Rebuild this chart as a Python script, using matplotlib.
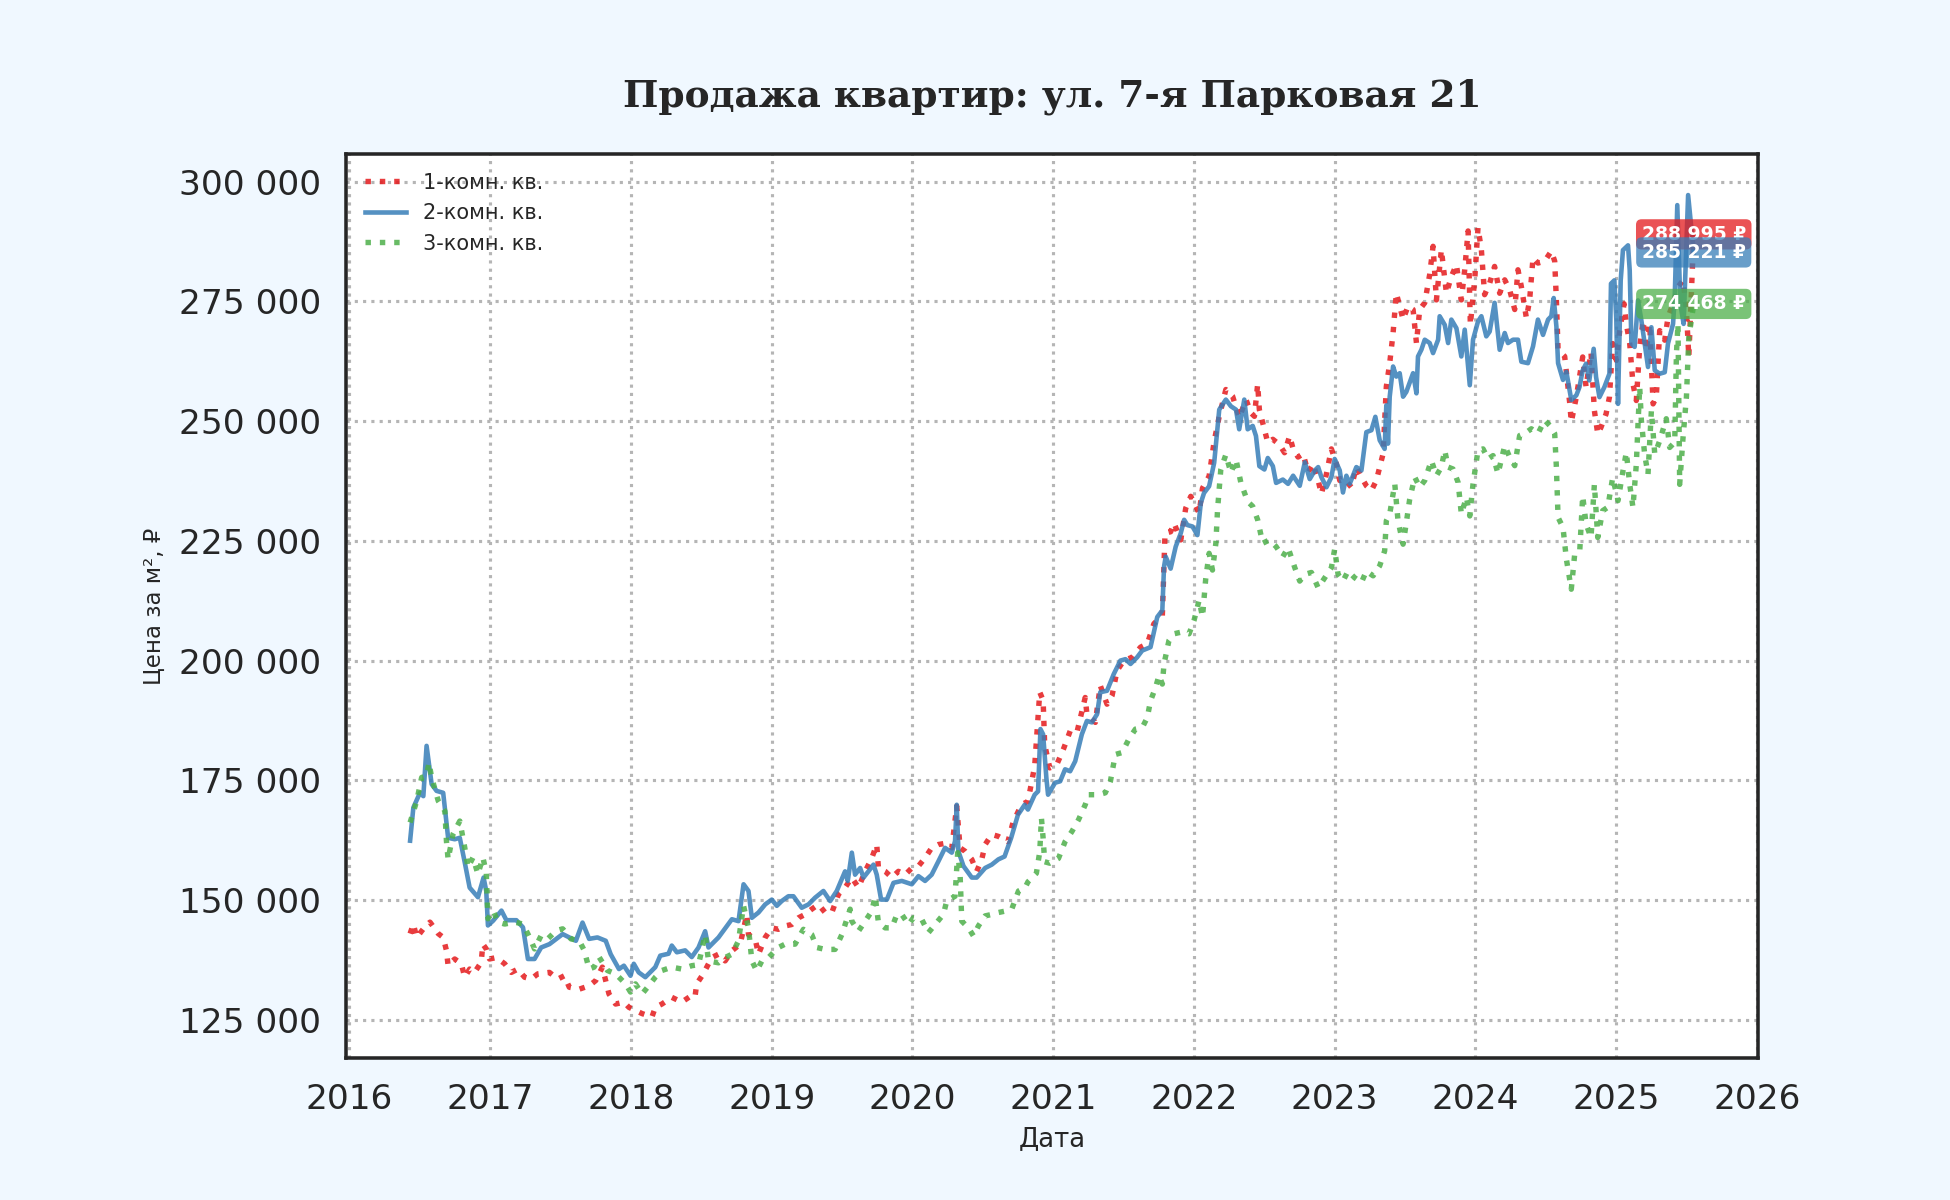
import numpy as np
import pandas as pd
import matplotlib
matplotlib.use("Agg")
import matplotlib.pyplot as plt
import matplotlib.dates as mdates
from matplotlib.ticker import FuncFormatter, MultipleLocator

# время в долях года, цены в тыс. руб. за м²
t_1k = [2016.431, 2016.454, 2016.478, 2016.525, 2016.572, 2016.631, 2016.666, 2016.689, 2016.701, 2016.748,
        2016.795, 2016.819, 2016.854, 2016.889, 2016.936, 2016.948, 2016.972, 2016.995, 2017.042, 2017.101,
        2017.148, 2017.195, 2017.242, 2017.289, 2017.336, 2017.419, 2017.478, 2017.525, 2017.560, 2017.631,
        2017.701, 2017.748, 2017.795, 2017.842, 2017.889, 2017.948, 2017.984, 2018.078, 2018.148, 2018.172,
        2018.219, 2018.289, 2018.360, 2018.431, 2018.454, 2018.466, 2018.513, 2018.573, 2018.621, 2018.668,
        2018.716, 2018.775, 2018.822, 2018.834, 2018.882, 2018.905, 2018.953, 2019.000, 2019.047, 2019.095,
        2019.142, 2019.190, 2019.237, 2019.284, 2019.332, 2019.379, 2019.427, 2019.474, 2019.521, 2019.569,
        2019.616, 2019.664, 2019.711, 2019.746, 2019.758, 2019.806, 2019.853, 2019.900, 2019.948, 2019.995,
        2020.043, 2020.090, 2020.137, 2020.185, 2020.244, 2020.280, 2020.315, 2020.339, 2020.374, 2020.422,
        2020.457, 2020.493, 2020.517, 2020.564, 2020.611, 2020.679, 2020.714, 2020.774, 2020.821, 2020.869,
        2020.905, 2020.929, 2020.940, 2020.976, 2021.024, 2021.071, 2021.119, 2021.167, 2021.226, 2021.238,
        2021.298, 2021.333, 2021.381, 2021.417, 2021.452, 2021.500, 2021.560, 2021.619, 2021.667, 2021.714,
        2021.774, 2021.793, 2021.833, 2021.857, 2021.905, 2021.940, 2021.976, 2022.012, 2022.036, 2022.060,
        2022.107, 2022.143, 2022.179, 2022.226, 2022.274, 2022.321, 2022.369, 2022.405, 2022.429, 2022.452,
        2022.464, 2022.500, 2022.524, 2022.560, 2022.607, 2022.643, 2022.679, 2022.704, 2022.739, 2022.775,
        2022.810, 2022.846, 2022.882, 2022.905, 2022.941, 2022.976, 2023.012, 2023.036, 2023.071, 2023.118,
        2023.154, 2023.190, 2023.225, 2023.261, 2023.296, 2023.320, 2023.344, 2023.367, 2023.391, 2023.415,
        2023.438, 2023.462, 2023.486, 2023.521, 2023.557, 2023.581, 2023.604, 2023.640, 2023.675, 2023.699,
        2023.723, 2023.758, 2023.794, 2023.829, 2023.865, 2023.900, 2023.924, 2023.948, 2023.964, 2023.995,
        2024.019, 2024.043, 2024.066, 2024.102, 2024.137, 2024.173, 2024.209, 2024.244, 2024.280, 2024.303,
        2024.327, 2024.363, 2024.386, 2024.410, 2024.445, 2024.493, 2024.540, 2024.564, 2024.576, 2024.588,
        2024.635, 2024.671, 2024.682, 2024.718, 2024.763, 2024.787, 2024.822, 2024.846, 2024.870, 2024.893,
        2024.929, 2024.953, 2024.976, 2025.000, 2025.024, 2025.055, 2025.071, 2025.095, 2025.118, 2025.142,
        2025.166, 2025.190, 2025.213, 2025.237, 2025.261, 2025.284, 2025.308, 2025.344, 2025.367, 2025.403,
        2025.438, 2025.474, 2025.498, 2025.515, 2025.550]
v_1k = [143.0, 145.0, 142.2, 144.0, 145.4, 143.0, 142.2, 139.5, 136.3, 137.7,
        136.7, 133.9, 135.6, 134.9, 137.0, 140.8, 139.8, 137.7, 138.0, 136.7,
        134.9, 135.6, 133.9, 133.5, 134.6, 134.9, 133.5, 134.2, 131.8, 131.4,
        132.1, 133.2, 136.0, 130.4, 128.3, 128.7, 127.6, 126.3, 125.6, 127.6,
        128.3, 129.7, 128.7, 130.1, 129.8, 132.5, 134.6, 138.0, 138.7, 137.3,
        139.4, 140.8, 147.0, 142.8, 141.8, 138.7, 142.2, 144.2, 143.9, 144.6,
        144.9, 146.3, 147.0, 148.1, 149.1, 147.4, 147.4, 151.2, 152.6, 154.7,
        152.6, 156.0, 158.8, 161.6, 156.7, 156.0, 154.7, 156.0, 155.3, 156.7,
        157.1, 158.8, 160.9, 161.6, 161.9, 160.9, 169.6, 160.9, 160.2, 158.5,
        156.0, 158.5, 161.6, 163.7, 163.3, 162.2, 166.1, 169.9, 170.6, 178.0,
        193.4, 191.7, 182.5, 177.6, 178.3, 181.5, 185.3, 185.0, 192.3, 188.8,
        187.1, 194.8, 190.9, 192.7, 197.9, 200.0, 200.7, 202.8, 203.5, 207.7,
        209.4, 226.6, 226.9, 228.7, 225.2, 231.8, 234.3, 232.2, 230.8, 236.0,
        238.5, 245.8, 251.0, 256.6, 255.2, 250.7, 254.5, 251.7, 251.0, 257.7,
        252.4, 248.3, 245.5, 246.2, 245.1, 243.4, 246.9, 244.2, 242.5, 243.2,
        239.3, 241.1, 237.6, 234.8, 239.0, 244.2, 241.1, 237.6, 237.9, 236.2,
        240.4, 238.3, 236.5, 235.5, 237.6, 240.4, 243.2, 257.2, 262.1, 268.4,
        276.7, 274.0, 271.2, 274.0, 273.3, 266.3, 273.3, 274.7, 280.6, 286.5,
        275.3, 285.8, 276.7, 280.2, 282.7, 275.3, 281.6, 289.7, 270.1, 279.5,
        290.4, 285.8, 276.4, 278.8, 282.3, 276.7, 279.5, 277.4, 273.3, 281.6,
        278.1, 271.5, 275.3, 284.1, 283.0, 283.4, 285.5, 283.4, 275.3, 264.9,
        263.5, 253.7, 249.8, 255.1, 263.4, 257.1, 264.4, 252.2, 247.3, 248.7,
        251.5, 255.0, 266.2, 262.7, 268.9, 274.5, 270.3, 266.2, 257.8, 254.3,
        265.5, 271.0, 264.8, 270.3, 253.6, 255.0, 268.9, 266.9, 271.7, 274.5,
        278.0, 279.4, 273.1, 263.4, 288.995]

t_2k = [2016.431, 2016.454, 2016.501, 2016.525, 2016.548, 2016.584, 2016.619, 2016.666, 2016.701, 2016.748,
        2016.784, 2016.819, 2016.854, 2016.913, 2016.953, 2016.972, 2016.984, 2017.019, 2017.078, 2017.113,
        2017.184, 2017.231, 2017.266, 2017.313, 2017.360, 2017.419, 2017.513, 2017.607, 2017.654, 2017.701,
        2017.760, 2017.819, 2017.854, 2017.913, 2017.948, 2017.995, 2018.019, 2018.054, 2018.101, 2018.172,
        2018.207, 2018.266, 2018.289, 2018.325, 2018.384, 2018.431, 2018.479, 2018.526, 2018.550, 2018.621,
        2018.716, 2018.763, 2018.799, 2018.834, 2018.858, 2018.905, 2018.953, 2019.000, 2019.036, 2019.071,
        2019.118, 2019.154, 2019.213, 2019.261, 2019.308, 2019.367, 2019.415, 2019.462, 2019.521, 2019.540,
        2019.569, 2019.592, 2019.628, 2019.652, 2019.687, 2019.723, 2019.746, 2019.777, 2019.818, 2019.865,
        2019.924, 2019.995, 2020.043, 2020.090, 2020.137, 2020.185, 2020.232, 2020.280, 2020.303, 2020.315,
        2020.327, 2020.363, 2020.422, 2020.457, 2020.517, 2020.564, 2020.611, 2020.655, 2020.702, 2020.750,
        2020.798, 2020.821, 2020.869, 2020.893, 2020.910, 2020.929, 2020.952, 2020.964, 2021.012, 2021.048,
        2021.083, 2021.119, 2021.155, 2021.202, 2021.238, 2021.274, 2021.310, 2021.333, 2021.381, 2021.429,
        2021.476, 2021.512, 2021.548, 2021.595, 2021.631, 2021.690, 2021.738, 2021.774, 2021.786, 2021.798,
        2021.833, 2021.869, 2021.905, 2021.929, 2021.952, 2021.988, 2022.024, 2022.048, 2022.071, 2022.107,
        2022.143, 2022.179, 2022.226, 2022.262, 2022.298, 2022.321, 2022.357, 2022.381, 2022.417, 2022.440,
        2022.464, 2022.500, 2022.524, 2022.560, 2022.583, 2022.631, 2022.668, 2022.704, 2022.751, 2022.787,
        2022.822, 2022.858, 2022.882, 2022.905, 2022.941, 2022.976, 2023.000, 2023.036, 2023.059, 2023.083,
        2023.107, 2023.154, 2023.190, 2023.225, 2023.261, 2023.289, 2023.320, 2023.355, 2023.367, 2023.379,
        2023.391, 2023.415, 2023.438, 2023.462, 2023.486, 2023.509, 2023.557, 2023.581, 2023.592, 2023.616,
        2023.640, 2023.675, 2023.699, 2023.735, 2023.746, 2023.782, 2023.806, 2023.829, 2023.865, 2023.900,
        2023.924, 2023.960, 2023.983, 2024.019, 2024.043, 2024.078, 2024.102, 2024.137, 2024.173, 2024.209,
        2024.232, 2024.268, 2024.303, 2024.327, 2024.374, 2024.410, 2024.445, 2024.481, 2024.517, 2024.540,
        2024.557, 2024.576, 2024.588, 2024.623, 2024.647, 2024.682, 2024.718, 2024.740, 2024.763, 2024.787,
        2024.810, 2024.841, 2024.858, 2024.882, 2024.917, 2024.953, 2024.964, 2024.988, 2025.000, 2025.012,
        2025.031, 2025.047, 2025.083, 2025.095, 2025.107, 2025.130, 2025.154, 2025.178, 2025.201, 2025.225,
        2025.249, 2025.273, 2025.308, 2025.344, 2025.367, 2025.403, 2025.415, 2025.433, 2025.455, 2025.478,
        2025.510, 2025.550]
v_2k = [162.4, 169.3, 172.4, 171.7, 182.2, 174.2, 172.8, 172.4, 163.0, 162.7,
        163.0, 157.9, 152.6, 150.6, 154.7, 151.9, 144.7, 145.7, 147.8, 145.8,
        145.8, 144.3, 137.7, 137.7, 140.1, 140.8, 142.9, 141.5, 145.3, 141.9,
        142.2, 141.5, 138.7, 135.6, 136.3, 134.2, 136.7, 134.9, 133.9, 136.0,
        138.4, 138.8, 140.5, 139.1, 139.5, 138.1, 140.1, 143.5, 140.1, 142.2,
        146.0, 145.6, 153.3, 151.9, 146.3, 147.4, 149.1, 150.1, 148.8, 149.8,
        150.8, 150.8, 148.4, 149.1, 150.5, 151.9, 149.8, 151.9, 156.0, 154.0,
        159.9, 155.3, 156.7, 154.7, 156.0, 157.4, 155.3, 150.1, 150.1, 153.6,
        154.0, 153.3, 155.0, 154.0, 155.3, 158.1, 160.9, 159.9, 162.3, 169.9,
        160.2, 157.1, 154.7, 154.7, 156.7, 157.4, 158.5, 159.1, 163.0, 167.8,
        169.9, 168.9, 172.0, 172.7, 185.7, 184.6, 175.5, 172.0, 174.5, 174.8,
        177.3, 176.9, 179.0, 184.6, 187.4, 187.1, 188.8, 193.4, 193.7, 197.2,
        200.0, 200.3, 199.3, 200.7, 202.1, 202.8, 209.1, 210.5, 219.6, 221.7,
        219.2, 223.8, 226.6, 229.4, 228.3, 228.0, 226.2, 232.9, 235.0, 236.4,
        241.3, 252.4, 254.5, 253.1, 252.4, 248.3, 254.5, 248.3, 249.0, 246.9,
        240.6, 239.9, 242.3, 240.6, 237.1, 237.8, 236.9, 238.6, 236.5, 241.4,
        237.9, 239.7, 240.4, 238.3, 236.2, 238.3, 242.1, 239.7, 235.1, 238.6,
        236.9, 240.4, 239.7, 247.7, 248.1, 250.9, 246.0, 244.2, 253.3, 245.3,
        255.1, 261.4, 259.3, 260.0, 255.1, 256.1, 260.0, 255.8, 263.5, 264.9,
        267.0, 266.3, 264.2, 267.0, 271.9, 270.1, 266.3, 271.2, 269.4, 263.5,
        269.1, 257.5, 267.0, 270.8, 271.9, 267.7, 268.7, 274.7, 264.9, 268.4,
        266.3, 267.0, 267.0, 262.4, 262.1, 265.6, 271.2, 268.0, 271.2, 271.9,
        275.7, 269.8, 262.1, 258.6, 260.3, 254.4, 255.4, 257.1, 260.6, 262.0,
        258.5, 265.1, 259.2, 255.0, 257.1, 259.9, 278.7, 279.4, 271.0, 253.6,
        279.4, 285.7, 286.7, 281.5, 266.2, 265.5, 275.2, 271.0, 266.2, 261.3,
        269.6, 260.6, 259.9, 260.2, 266.2, 270.3, 275.9, 295.1, 274.5, 270.3,
        297.2, 285.221]

t_3k = [2016.431, 2016.478, 2016.513, 2016.548, 2016.565, 2016.584, 2016.631, 2016.678, 2016.689, 2016.701,
        2016.736, 2016.784, 2016.819, 2016.842, 2016.878, 2016.913, 2016.948, 2016.972, 2016.984, 2017.019,
        2017.054, 2017.101, 2017.172, 2017.231, 2017.278, 2017.313, 2017.360, 2017.407, 2017.466, 2017.513,
        2017.572, 2017.631, 2017.666, 2017.701, 2017.736, 2017.772, 2017.831, 2017.889, 2017.960, 2017.995,
        2018.031, 2018.078, 2018.125, 2018.172, 2018.219, 2018.289, 2018.360, 2018.431, 2018.479, 2018.526,
        2018.550, 2018.621, 2018.668, 2018.716, 2018.763, 2018.799, 2018.834, 2018.858, 2018.893, 2018.929,
        2018.976, 2019.047, 2019.095, 2019.166, 2019.225, 2019.284, 2019.320, 2019.379, 2019.450, 2019.498,
        2019.557, 2019.569, 2019.616, 2019.664, 2019.711, 2019.735, 2019.758, 2019.806, 2019.853, 2019.889,
        2019.924, 2019.972, 2020.007, 2020.066, 2020.114, 2020.161, 2020.220, 2020.244, 2020.303, 2020.322,
        2020.339, 2020.351, 2020.398, 2020.434, 2020.469, 2020.517, 2020.564, 2020.611, 2020.659, 2020.706,
        2020.754, 2020.801, 2020.821, 2020.881, 2020.905, 2020.917, 2020.929, 2020.940, 2020.976, 2021.036,
        2021.083, 2021.131, 2021.179, 2021.226, 2021.250, 2021.321, 2021.369, 2021.405, 2021.440, 2021.488,
        2021.536, 2021.583, 2021.631, 2021.667, 2021.690, 2021.726, 2021.750, 2021.774, 2021.786, 2021.821,
        2021.857, 2021.917, 2021.964, 2022.000, 2022.036, 2022.060, 2022.083, 2022.107, 2022.131, 2022.155,
        2022.167, 2022.190, 2022.226, 2022.262, 2022.298, 2022.333, 2022.381, 2022.417, 2022.452, 2022.488,
        2022.536, 2022.583, 2022.631, 2022.668, 2022.716, 2022.751, 2022.787, 2022.834, 2022.882, 2022.929,
        2022.976, 2023.000, 2023.024, 2023.059, 2023.095, 2023.142, 2023.190, 2023.225, 2023.273, 2023.320,
        2023.355, 2023.367, 2023.391, 2023.427, 2023.450, 2023.486, 2023.509, 2023.533, 2023.569, 2023.604,
        2023.640, 2023.687, 2023.723, 2023.758, 2023.782, 2023.806, 2023.841, 2023.877, 2023.900, 2023.936,
        2023.960, 2023.983, 2024.019, 2024.055, 2024.090, 2024.126, 2024.161, 2024.209, 2024.244, 2024.280,
        2024.315, 2024.351, 2024.398, 2024.445, 2024.493, 2024.528, 2024.564, 2024.576, 2024.588, 2024.623,
        2024.647, 2024.682, 2024.706, 2024.742, 2024.763, 2024.787, 2024.822, 2024.846, 2024.870, 2024.905,
        2024.941, 2024.976, 2025.012, 2025.047, 2025.071, 2025.095, 2025.118, 2025.142, 2025.154, 2025.166,
        2025.178, 2025.201, 2025.225, 2025.249, 2025.273, 2025.308, 2025.355, 2025.379, 2025.415, 2025.427,
        2025.438, 2025.450, 2025.474, 2025.498, 2025.515, 2025.550]
v_3k = [166.2, 170.7, 175.6, 175.9, 178.7, 175.6, 170.7, 168.6, 162.4, 158.5,
        163.8, 166.5, 161.0, 156.8, 158.9, 155.4, 158.9, 155.8, 146.1, 147.8,
        145.4, 145.0, 145.4, 145.0, 142.2, 139.8, 142.6, 141.9, 143.6, 144.0,
        141.9, 141.5, 139.5, 135.6, 136.0, 138.1, 135.3, 134.6, 132.5, 130.8,
        132.5, 130.4, 132.1, 133.9, 135.3, 136.0, 135.6, 136.3, 136.5, 142.8,
        137.3, 136.9, 138.0, 138.7, 141.5, 148.8, 144.2, 137.3, 135.2, 137.3,
        138.0, 140.1, 140.8, 140.8, 143.9, 142.8, 140.1, 139.7, 139.7, 142.8,
        148.1, 145.6, 143.5, 145.6, 147.7, 150.8, 145.3, 144.2, 144.2, 147.0,
        147.0, 144.9, 146.3, 146.0, 143.2, 144.9, 147.0, 149.8, 150.8, 159.9,
        155.3, 145.6, 144.2, 142.5, 144.6, 146.7, 147.0, 147.4, 147.7, 148.1,
        151.9, 152.6, 153.8, 155.6, 160.1, 167.1, 162.9, 158.0, 157.7, 158.7,
        162.2, 164.3, 166.8, 169.9, 172.0, 172.0, 172.4, 174.8, 180.4, 180.8,
        183.6, 185.7, 186.0, 188.1, 191.6, 194.4, 196.9, 195.1, 199.3, 204.2,
        205.6, 206.0, 205.6, 208.4, 212.6, 209.1, 217.1, 222.4, 218.9, 224.5,
        231.5, 239.9, 243.0, 239.2, 242.0, 237.1, 233.2, 232.2, 229.4, 224.5,
        225.2, 223.8, 221.7, 223.6, 219.4, 216.6, 218.0, 218.4, 215.2, 217.3,
        219.4, 223.3, 218.0, 216.6, 218.7, 217.3, 216.3, 218.7, 217.7, 219.8,
        222.9, 229.2, 230.6, 236.9, 229.2, 224.3, 228.8, 233.7, 238.3, 236.2,
        237.6, 241.8, 238.6, 240.4, 243.9, 240.4, 240.0, 237.2, 230.6, 234.1,
        230.2, 236.9, 243.9, 244.2, 242.1, 242.8, 239.0, 244.9, 242.5, 240.7,
        247.0, 247.4, 248.4, 247.4, 250.2, 249.1, 247.4, 240.4, 229.9, 227.8,
        221.2, 214.9, 222.2, 222.9, 234.4, 228.5, 225.7, 236.8, 225.7, 231.3,
        232.0, 238.2, 233.4, 239.6, 243.5, 236.8, 232.0, 241.0, 249.4, 257.1,
        250.1, 243.1, 238.9, 252.2, 243.1, 245.9, 250.5, 244.5, 245.6, 264.1,
        270.3, 236.8, 246.6, 255.0, 267.5, 274.468]

series_names = ["1-комн. кв.", "2-комн. кв.", "3-комн. кв."]
series_colors = ["#e41a1c", "#377eb8", "#4daf4a"]
series_styles = [":", "-", ":"]


def to_dates(years):
    years = np.asarray(years, dtype=float)
    whole = np.floor(years).astype(int)
    base = pd.to_datetime(whole.astype(str), format="%Y")
    return base + pd.to_timedelta((years - whole) * 365.25, unit="D")


def fmt_rub(x, pos=None):
    return f"{x:,.0f}".replace(",", " ")


fig = plt.figure(figsize=(13, 8), dpi=150, facecolor="#f0f8ff")
ax = fig.add_axes([0.1774, 0.1183, 0.9015 - 0.1774, 0.8717 - 0.1183])
ax.set_facecolor("white")

datos = [(t_1k, v_1k), (t_2k, v_2k), (t_3k, v_3k)]
for (t, v), nombre, color, ls in zip(datos, series_names, series_colors, series_styles):
    fechas = to_dates(t)
    valores = np.asarray(v) * 1000
    lw = 2.2 if ls == "-" else 2.6
    ax.plot(fechas, valores, ls, color=color, linewidth=lw, alpha=0.85, label=nombre)
    ax.text(fechas[-1], valores[-1], fmt_rub(valores[-1]) + " ₽", ha="center", va="center",
            color="white", fontsize=9, fontweight="bold", zorder=5,
            bbox=dict(boxstyle="round,pad=0.3", facecolor=color, edgecolor="none", alpha=0.75))

ax.xaxis.set_major_locator(mdates.YearLocator())
ax.xaxis.set_major_formatter(mdates.DateFormatter("%Y"))
ax.yaxis.set_major_locator(MultipleLocator(25000))
ax.yaxis.set_major_formatter(FuncFormatter(fmt_rub))

ax.grid(True, linestyle=":", color="#b5b5b5", linewidth=1.5)
ax.tick_params(axis="both", length=0, labelsize=16.5, labelcolor="#262626")
ax.tick_params(axis="x", pad=12)
ax.tick_params(axis="y", pad=12)
for s in ax.spines.values():
    s.set_color("#262626")
    s.set_linewidth(1.7)

ax.set_title("Продажа квартир: ул. 7-я Парковая 21", fontsize=18, fontweight="bold",
             family="DejaVu Serif", color="#262626", pad=23)
ax.set_xlabel("Дата", fontsize=12.5, color="#262626", labelpad=5)
ax.set_ylabel("Цена за м², ₽", fontsize=11, color="#262626", labelpad=6)
ax.legend(loc="upper left", frameon=False, fontsize=10, labelcolor="#262626")

fig.savefig("out.png", dpi=150, facecolor=fig.get_facecolor())
plt.close(fig)
